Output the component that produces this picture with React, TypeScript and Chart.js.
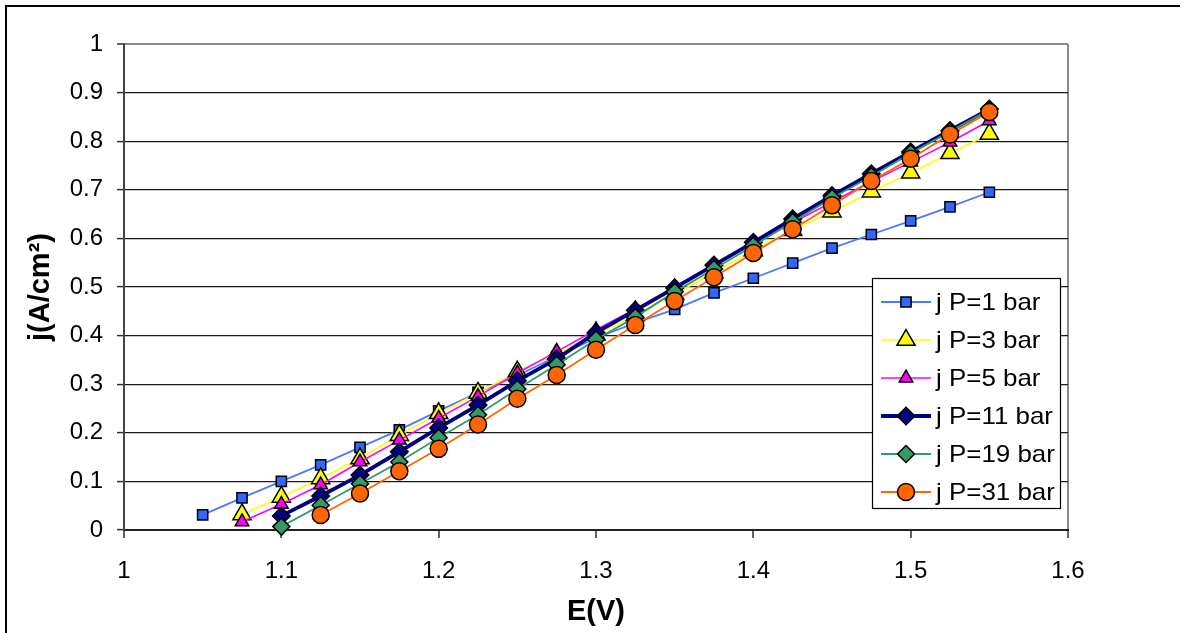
import React, { useEffect, useRef } from 'react';
import { Chart, registerables } from 'chart.js';

Chart.register(...registerables);

// ---------- data ----------
const E_VALUES = [1.05, 1.075, 1.1, 1.125, 1.15, 1.175, 1.2, 1.225, 1.25, 1.275, 1.3, 1.325, 1.35, 1.375, 1.4, 1.425, 1.45, 1.475, 1.5, 1.525, 1.55];
const J_P1 = [0.031, 0.066, 0.100, 0.134, 0.170, 0.206, 0.245, 0.283, 0.318, 0.357, 0.395, 0.426, 0.454, 0.488, 0.518, 0.549, 0.580, 0.608, 0.636, 0.665, 0.695];
const J_P3 = [null, 0.032, 0.068, 0.106, 0.147, 0.195, 0.240, 0.282, 0.326, 0.362, 0.402, 0.442, 0.485, 0.530, 0.575, 0.617, 0.655, 0.696, 0.735, 0.775, 0.815];
const J_P5 = [null, 0.017, 0.053, 0.093, 0.140, 0.185, 0.230, 0.275, 0.323, 0.367, 0.412, 0.455, 0.500, 0.545, 0.590, 0.632, 0.675, 0.717, 0.757, 0.798, 0.842];
const J_P11 = [null, null, 0.029, 0.070, 0.113, 0.161, 0.210, 0.257, 0.307, 0.352, 0.406, 0.452, 0.498, 0.545, 0.592, 0.640, 0.688, 0.733, 0.778, 0.822, 0.866];
const J_P19 = [null, null, 0.007, 0.051, 0.095, 0.140, 0.190, 0.237, 0.290, 0.340, 0.392, 0.438, 0.490, 0.537, 0.585, 0.634, 0.683, 0.728, 0.775, 0.820, 0.865];
const J_P31 = [null, null, null, 0.031, 0.075, 0.121, 0.167, 0.217, 0.270, 0.319, 0.371, 0.422, 0.471, 0.520, 0.570, 0.619, 0.668, 0.718, 0.764, 0.814, 0.860];
const SERIES_LABELS = ['j P=1 bar', 'j P=3 bar', 'j P=5 bar', 'j P=11 bar', 'j P=19 bar', 'j P=31 bar'];
const X_TICKS = [1, 1.1, 1.2, 1.3, 1.4, 1.5, 1.6];
const Y_TICKS = [0, 0.1, 0.2, 0.3, 0.4, 0.5, 0.6, 0.7, 0.8, 0.9, 1];
const X_TITLE = 'E(V)';
const Y_TITLE = 'j(A/cm²)';

// ---------- styles ----------
const FONT = '"Liberation Sans", Arial, sans-serif';
const STYLES = [
  { line: '#4A7BFF', fill: '#3366FF', shape: 'rect', r: 7.2, lw: 1.8 },
  { line: '#FFFF00', fill: '#FFFF00', shape: 'triangle', r: 10.5, lw: 1.6 },
  { line: '#FF00FF', fill: '#FF00FF', shape: 'triangle', r: 7.8, lw: 1.6 },
  { line: '#000080', fill: '#000080', shape: 'rectRot', r: 8.8, lw: 3.8 },
  { line: '#339966', fill: '#339966', shape: 'rectRot', r: 8.5, lw: 1.8 },
  { line: '#FF6600', fill: '#FF6600', shape: 'circle', r: 8.5, lw: 1.8 },
];
const SERIES_VALUES = [J_P1, J_P3, J_P5, J_P11, J_P19, J_P31];

function drawMarker(ctx: CanvasRenderingContext2D, shape: string, x: number, y: number, r: number, fill: string) {
  ctx.save();
  ctx.beginPath();
  if (shape === 'rect') {
    const s = r * Math.SQRT1_2;
    ctx.rect(x - s, y - s, 2 * s, 2 * s);
  } else if (shape === 'triangle') {
    const w = r * Math.sin(Math.PI / 3);
    ctx.moveTo(x, y - r);
    ctx.lineTo(x + w, y + r / 2);
    ctx.lineTo(x - w, y + r / 2);
    ctx.closePath();
  } else if (shape === 'rectRot') {
    ctx.moveTo(x, y - r);
    ctx.lineTo(x + r, y);
    ctx.lineTo(x, y + r);
    ctx.lineTo(x - r, y);
    ctx.closePath();
  } else {
    ctx.arc(x, y, r, 0, Math.PI * 2);
  }
  ctx.fillStyle = fill;
  ctx.fill();
  ctx.lineWidth = 1.5;
  ctx.strokeStyle = '#000';
  ctx.stroke();
  ctx.restore();
}

const legendPlugin = {
  id: 'insideLegend',
  afterDraw(chart: any) {
    const ctx = chart.ctx as CanvasRenderingContext2D;
    const bx = 872, by = 278, bw = 188, bh = 230;
    ctx.save();
    ctx.fillStyle = '#fff';
    ctx.fillRect(bx, by, bw, bh);
    ctx.strokeStyle = '#000';
    ctx.lineWidth = 1.2;
    ctx.strokeRect(bx + 0.5, by + 0.5, bw, bh);
    ctx.font = `24px ${FONT}`;
    ctx.textBaseline = 'middle';
    ctx.textAlign = 'left';
    SERIES_LABELS.forEach((label, i) => {
      const st = STYLES[i];
      const cy = by + 24 + i * 38;
      ctx.beginPath();
      ctx.moveTo(881, cy);
      ctx.lineTo(931, cy);
      ctx.strokeStyle = st.line;
      ctx.lineWidth = st.lw;
      ctx.stroke();
      drawMarker(ctx, st.shape, 906, cy, st.r, st.fill);
      ctx.save();
      ctx.translate(936, cy + 1);
      ctx.scale(1.08, 1);
      ctx.fillStyle = '#000';
      ctx.fillText(label, 0, 0);
      ctx.restore();
    });
    ctx.restore();
  },
};

const fmt = (v: number) => String(Number(Number(v).toFixed(2)));

export default function App() {
  const ref = useRef<HTMLCanvasElement | null>(null);
  useEffect(() => {
    if (!ref.current) return;
    const datasets = SERIES_VALUES.map((vals, i) => {
      const st = STYLES[i];
      return {
        label: SERIES_LABELS[i],
        data: E_VALUES.map((x, k) => ({ x, y: vals[k] })),
        borderColor: st.line,
        backgroundColor: st.fill,
        borderWidth: st.lw,
        pointStyle: st.shape,
        pointRadius: st.r,
        pointBackgroundColor: st.fill,
        pointBorderColor: '#000',
        pointBorderWidth: 1.5,
        tension: 0,
        spanGaps: false,
        clip: false,
        order: 5 - i,
      };
    });
    const chart = new Chart(ref.current, {
      type: 'line',
      data: { datasets },
      plugins: [legendPlugin],
      options: {
        animation: false,
        responsive: false,
        devicePixelRatio: 1,
        layout: { padding: { left: 0, top: 44, right: 121, bottom: 0 } },
        plugins: { legend: { display: false }, tooltip: { enabled: false } },
        scales: {
          x: {
            type: 'linear',
            min: 1,
            max: 1.6,
            afterBuildTicks: (s: any) => { s.ticks = X_TICKS.map((v) => ({ value: v })); },
            afterFit: (s: any) => { s.height = 103; },
            ticks: {
              callback: (v: any) => fmt(v),
              font: { family: FONT, size: 24 },
              color: '#000',
              padding: 19,
              maxRotation: 0,
              autoSkip: false,
            },
            grid: {
              color: (c: any) => (c.tick && Math.abs(c.tick.value - 1.6) < 1e-6 ? '#8a8a8a' : 'rgba(0,0,0,0)'),
              lineWidth: 2,
              tickColor: '#333',
              tickLength: 8,
              tickWidth: 1.5,
            },
            border: { display: true, color: '#222', width: 2 },
            title: {
              display: true,
              text: X_TITLE,
              font: { family: FONT, size: 29, weight: 'bold' },
              color: '#000',
              padding: { top: 0, bottom: 4 },
            },
          },
          y: {
            type: 'linear',
            min: 0,
            max: 1,
            afterBuildTicks: (s: any) => { s.ticks = Y_TICKS.map((v) => ({ value: v })); },
            afterFit: (s: any) => { s.width = 124; },
            ticks: {
              callback: (v: any) => fmt(v),
              font: { family: FONT, size: 24 },
              color: '#000',
              padding: 14,
              autoSkip: false,
            },
            grid: {
              color: (c: any) => (c.tick && Math.abs(c.tick.value - 1) < 1e-6 ? '#8a8a8a' : '#1a1a1a'),
              lineWidth: (c: any) => (c.tick && Math.abs(c.tick.value - 1) < 1e-6 ? 2 : 1.2),
              tickColor: '#333',
              tickLength: 7,
              tickWidth: 1.5,
            },
            border: { display: true, color: '#444', width: 2 },
            title: {
              display: true,
              text: Y_TITLE,
              font: { family: FONT, size: 29, weight: 'bold' },
              color: '#000',
              padding: { top: 24, bottom: 0 },
            },
          },
        },
      } as any,
    });
    return () => chart.destroy();
  }, []);

  return (
    <div style={{ position: 'fixed', left: 0, top: 0, width: 1189, height: 633, background: '#fff', overflow: 'hidden' }}>
      <canvas ref={ref} width={1189} height={633} style={{ position: 'absolute', left: 0, top: 0, width: 1189, height: 633 }} />
      <div style={{ position: 'absolute', left: 5, top: 5, width: 1173, height: 640, borderLeft: '2px solid #000', borderTop: '2px solid #000', pointerEvents: 'none' }} />
    </div>
  );
}
